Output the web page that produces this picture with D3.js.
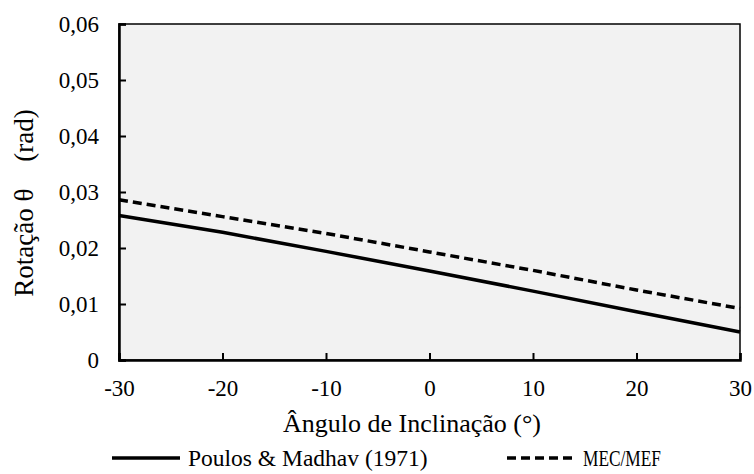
<!DOCTYPE html>
<html>
<head>
<meta charset="utf-8">
<script src="https://cdn.jsdelivr.net/npm/d3@7"></script>
<style>
  body { margin: 0; background: #fff; }
  text { font-family: "Liberation Serif", "Times New Roman", serif; fill: #000; }
</style>
</head>
<body>
<div id="vis1"></div>
<script>
const FRAME_WIDTH = 754;
const FRAME_HEIGHT = 474;
const MARGINS = {left: 119, right: 14, top: 24, bottom: 114};

const VIS_WIDTH = FRAME_WIDTH - MARGINS.left - MARGINS.right;
const VIS_HEIGHT = FRAME_HEIGHT - MARGINS.top - MARGINS.bottom;

// data
const angles = [-30, -20, -10, 0, 10, 20, 30];
const poulos = [0.0258, 0.0228, 0.0194, 0.0159, 0.0123, 0.0086, 0.0050];
const mecMef = [0.0286, 0.0256, 0.0226, 0.0193, 0.0160, 0.0125, 0.0092];
const xTicks = [-30, -20, -10, 0, 10, 20, 30];
const yTicks = [0, 0.01, 0.02, 0.03, 0.04, 0.05, 0.06];

const FRAME1 = d3.select('#vis1')
  .append('svg')
    .attr('width', FRAME_WIDTH)
    .attr('height', FRAME_HEIGHT);

const X_SCALE = d3.scaleLinear().domain([-30, 30]).range([0, VIS_WIDTH]);
const Y_SCALE = d3.scaleLinear().domain([0, 0.06]).range([VIS_HEIGHT, 0]);

const g = FRAME1.append('g')
  .attr('transform', 'translate(' + MARGINS.left + ',' + MARGINS.top + ')');

// plot background + frame
g.append('rect')
  .attr('width', VIS_WIDTH)
  .attr('height', VIS_HEIGHT)
  .attr('fill', '#f2f2f2')
  .attr('stroke', '#000')
  .attr('stroke-width', 1.5);

// axes
const yAxis = g.append('g')
  .call(d3.axisLeft(Y_SCALE)
    .tickValues(yTicks)
    .tickSize(-7)
    .tickPadding(20)
    .tickFormat(d => d === 0 ? '0' : d.toFixed(2).replace('.', ',')));

const xAxis = g.append('g')
  .attr('transform', 'translate(0,' + VIS_HEIGHT + ')')
  .call(d3.axisBottom(X_SCALE)
    .tickValues(xTicks)
    .tickSize(-7)
    .tickPadding(20)
    .tickFormat(d => d));

[yAxis, xAxis].forEach(ax => {
  ax.select('.domain').attr('stroke-width', 2.5);
  ax.selectAll('.tick line').attr('stroke-width', 2);
  ax.selectAll('.tick text')
    .style('font-size', '23px')
    .style('font-family', '"Liberation Serif", serif');
});

// lines
const series = [
  {name: 'Poulos & Madhav (1971)', values: poulos, dash: null, width: null},
  {name: 'MEC/MEF', values: mecMef, dash: '9,5', width: 78}
];

const line = d3.line()
  .x(d => X_SCALE(d[0]))
  .y(d => Y_SCALE(d[1]));

series.forEach(s => {
  g.append('path')
    .datum(angles.map((a, i) => [a, s.values[i]]))
    .attr('fill', 'none')
    .attr('stroke', '#000')
    .attr('stroke-width', 3.5)
    .attr('stroke-dasharray', s.dash)
    .attr('d', line);
});

// axis titles
FRAME1.append('text')
  .attr('x', 412)
  .attr('y', 432)
  .attr('text-anchor', 'middle')
  .style('font-size', '26px')
  .text('Ângulo de Inclinação (°)');

FRAME1.append('text')
  .attr('transform', 'translate(33,203) rotate(-90)')
  .attr('text-anchor', 'middle')
  .style('font-size', '27px')
  .style('white-space', 'pre')
  .text('Rotação θ    (rad)');

// legend
const legendX = [112, 507];
series.forEach((s, i) => {
  const lg = FRAME1.append('g')
    .attr('transform', 'translate(' + legendX[i] + ',458)');
  lg.append('line')
    .attr('x1', 0).attr('x2', 68)
    .attr('stroke', '#000')
    .attr('stroke-width', 3.5)
    .attr('stroke-dasharray', s.dash);
  const t = lg.append('text')
    .attr('x', 76)
    .attr('y', 8)
    .style('font-size', '23.5px')
    .text(s.name);
  if (s.width) {
    t.attr('textLength', s.width).attr('lengthAdjust', 'spacingAndGlyphs');
  }
});
</script>
</body>
</html>
